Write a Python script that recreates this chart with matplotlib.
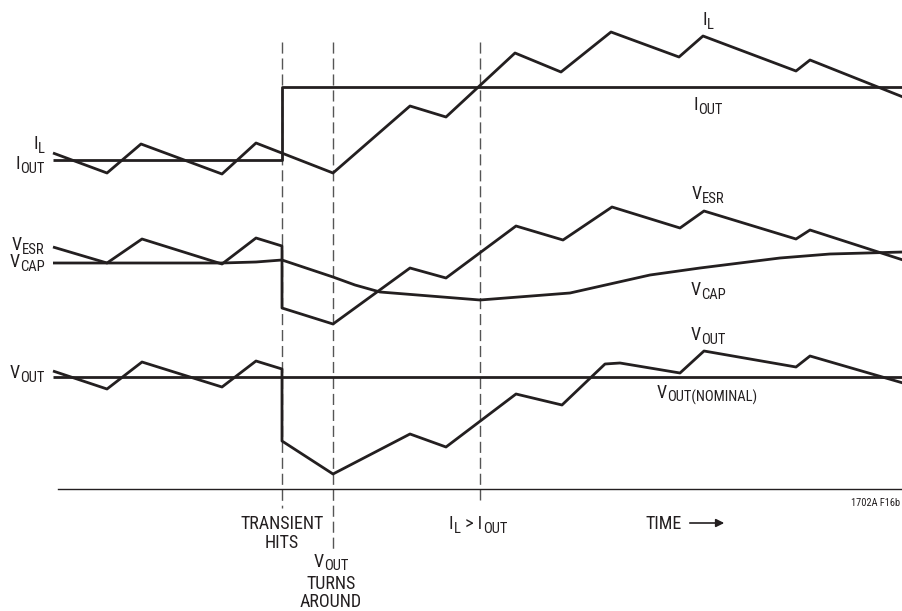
import matplotlib.pyplot as plt
from matplotlib import font_manager

# pick a narrow face if there is one
names = {f.name for f in font_manager.fontManager.ttflist}
face = 'DejaVu Sans'
for cand in ['Liberation Sans Narrow', 'Roboto Condensed', 'Open Sans Condensed',
             'Noto Sans Condensed', 'DejaVu Sans Condensed', 'Liberation Sans']:
    if cand in names:
        face = cand
        break
plt.rcParams['font.family'] = [face, 'DejaVu Sans']

ink = '#231f20'

# event times (dashed markers) and where each dash stops
events_t = [282, 333, 480]
events_end = [508, 550, 500]

# I_OUT step and I_L ripple
iout_t = [53, 282, 282, 903]
iout_y = [160, 160, 87, 87]
il_t = [53, 107, 141, 222, 256, 333, 410, 446, 515, 561, 611, 679, 703, 796, 810, 903]
il_y = [153, 173, 144, 174, 143, 173, 106, 117, 53, 72, 32, 57, 36, 71, 60, 97]

# V_ESR and V_CAP
vesr_t = [53, 107, 142, 222, 256, 282, 282, 333, 410, 446, 516, 563, 612, 680, 704, 796, 810, 903]
vesr_y = [247, 263, 239, 264, 238, 246, 308, 324, 268, 278, 226, 240, 207, 228, 211, 239, 230, 260]
vcap_t = [53, 107, 222, 256, 282, 333, 355, 380, 430, 480, 570, 650, 700, 780, 830, 903]
vcap_y = [263, 263, 263, 262, 260, 277, 285, 292, 296, 300, 293, 275, 268, 258, 254, 252]

# V_OUT and nominal
vnom_t = [53, 903]
vnom_y = [377, 377]
vout_t = [53, 107, 142, 222, 256, 282, 282, 333, 410, 446, 516, 562, 605, 620, 680, 704, 796, 810, 903]
vout_y = [371, 389, 362, 387, 361, 369, 441, 474, 434, 447, 394, 405, 364, 363, 373, 351, 367, 356, 383]

fig = plt.figure(figsize=(9.03, 6.11), dpi=100)
ax = fig.add_axes([0, 0, 1, 1])
ax.set_xlim(0, 903)
ax.set_ylim(611, 0)
ax.axis('off')

for t, e in zip(events_t, events_end):
    ax.plot([t, t], [42, e], color='#555555', lw=1.0, dashes=(8, 3.5))

ax.plot([58, 903], [489, 489], color=ink, lw=1.0)

lw = 2.0
for t, y in [(iout_t, iout_y), (il_t, il_y), (vesr_t, vesr_y), (vcap_t, vcap_y),
             (vnom_t, vnom_y), (vout_t, vout_y)]:
    ax.plot(t, y, color=ink, lw=lw, solid_joinstyle='round', solid_capstyle='butt')

renderer = fig.canvas.get_renderer()


def label(x, base, parts, ha='center', size=13, subsize=10.5, drop=4):
    # parts: list of (text, is_subscript); base is the baseline in pixels
    arts = []
    widths = []
    for s, sub in parts:
        t = ax.text(0, base + (drop if sub else 0), s, ha='left', va='baseline',
                    fontsize=subsize if sub else size, color=ink)
        arts.append(t)
        widths.append(t.get_window_extent(renderer).width)
    total = sum(widths) + 0.5 * (len(parts) - 1)
    if ha == 'right':
        x0 = x - total
    elif ha == 'center':
        x0 = x - total / 2
    else:
        x0 = x
    for t, w in zip(arts, widths):
        t.set_x(x0)
        x0 += w + 0.5


# left labels
label(45, 149, [('I', 0), ('L', 1)], ha='right')
label(45, 169, [('I', 0), ('OUT', 1)], ha='right')
label(45, 250, [('V', 0), ('ESR', 1)], ha='right')
label(45, 267, [('V', 0), ('CAP', 1)], ha='right')
label(45, 378, [('V', 0), ('OUT', 1)], ha='right')

# right labels
label(708, 25, [('I', 0), ('L', 1)])
label(708, 110, [('I', 0), ('OUT', 1)])
label(708, 199, [('V', 0), ('ESR', 1)])
label(708, 295, [('V', 0), ('CAP', 1)])
label(708, 340, [('V', 0), ('OUT', 1)])
label(707, 398, [('V', 0), ('OUT(NOMINAL)', 1)])

# event notes
label(282, 529, [('TRANSIENT', 0)])
label(282, 548, [('HITS', 0)])
label(331, 567, [('V', 0), ('OUT', 1)], drop=3)
label(331, 589, [('TURNS', 0)])
label(331, 607, [('AROUND', 0)])
label(478, 529, [('I', 0), ('L', 1), (' > I', 0), ('OUT', 1)])
label(664, 529, [('TIME', 0)])
ax.annotate('', xy=(727, 523), xytext=(687, 523),
            arrowprops=dict(arrowstyle='-|>', color=ink, lw=1.2, mutation_scale=12))
label(900, 506, [('1702A F16b', 0)], ha='right', size=7.5)

fig.savefig('out.png', dpi=100)
